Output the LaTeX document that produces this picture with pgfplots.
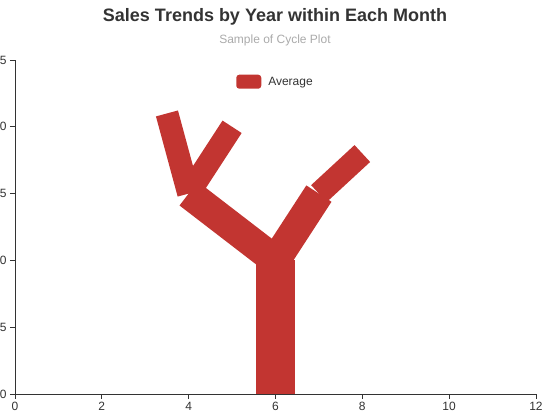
\documentclass[border=0pt]{standalone}
\usepackage{pgfplots}
\pgfplotsset{compat=1.18}
\usepackage{fontspec}
\setmainfont{Liberation Sans}
\definecolor{ered}{HTML}{C23531}
\definecolor{txt}{HTML}{333333}
\definecolor{sub}{HTML}{AAAAAA}
\begin{document}
\begin{tikzpicture}[x=1pt,y=1pt]
\path[use as bounding box] (0,0) rectangle (550,420);
\node[font=\fontsize{18}{20}\selectfont\bfseries, text=txt, anchor=base] at (275,398.5) {Sales Trends by Year within Each Month};
\node[font=\fontsize{12}{14}\selectfont, text=sub, anchor=base] at (275,376.5) {Sample of Cycle Plot};
\begin{axis}[
  at={(15pt,26pt)}, anchor=south west,
  scale only axis, width=521pt, height=334pt,
  xmin=0, xmax=12, ymin=0, ymax=25,
  xtick={0,2,...,12}, ytick={0,5,...,25},
  axis x line*=bottom, axis y line*=left,
  axis line style={txt, line width=0.8pt},
  tick style={txt, line width=0.8pt},
  tick align=outside, major tick length=5pt,
  ticklabel style={font=\fontsize{12}{14}\selectfont, text=txt},
  /pgf/number format/assume math mode=true,
  axis on top=true, clip=false,
  legend style={at={(0.5,0.935)}, anchor=center, draw=none, fill=none,
    font=\fontsize{12}{14}\selectfont, text=txt, inner sep=0pt,
    legend cell align=left, /tikz/every odd column/.style={column sep=5pt}},
  legend image code/.code={\path[fill=ered, draw=none, line width=0pt, rounded corners=3pt] (0pt,-7pt) rectangle (25pt,7pt);},
]
\addplot[ered, line width=38.6pt, line cap=butt] coordinates {(6,0) (6,10)};
\addlegendentry{Average}
\addplot[ered, line width=30pt, line cap=butt, forget plot] coordinates {(6,10) (4,15)};
\addplot[ered, line width=30pt, line cap=butt, forget plot] coordinates {(6,10) (7,15)};
\addplot[ered, line width=22.8pt, line cap=butt, forget plot] coordinates {(4,15) (3.5,21)};
\addplot[ered, line width=22.8pt, line cap=butt, forget plot] coordinates {(4,15) (5,20)};
\addplot[ered, line width=23pt, line cap=butt, forget plot] coordinates {(7,15) (8,18)};
\end{axis}
\end{tikzpicture}
\end{document}
